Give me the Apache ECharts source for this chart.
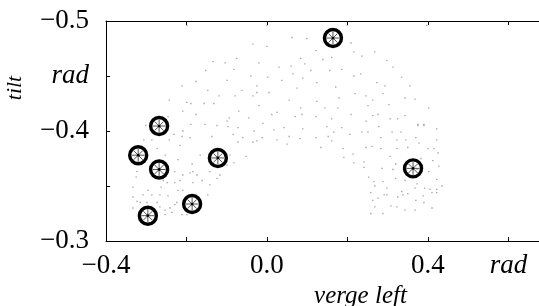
<!DOCTYPE html>
<html>
    <head>
        <meta charset="utf-8">
        <title>tilt vs verge left</title>
        <script src="https://cdn.jsdelivr.net/npm/echarts@6/dist/echarts.min.js"></script>
    </head>
    <body style="margin:0">
        <style>
            html, body, #main {
                width: 539px;
                height: 306px;
                background: #fff;
            }
        </style>
        <div id="main"></div>
        <script>
            // tick labels (value -> text); everything else is left blank
            var xTickLabels = { '-40': '\u22120.4', '0': '0.0', '40': '0.4', '60': '{it|rad}' };
            var yTickLabels = { '-50': '\u22120.5', '-45': '{it|rad}', '-40': '\u22120.4', '-30': '\u22120.3' };

            // highlighted fixations (wheel markers)
            var markX = [0.164, -0.268, -0.320, -0.268, -0.122, -0.186, -0.296, 0.363];
            var markY = [-0.4845, -0.4045, -0.378, -0.365, -0.3755, -0.3336, -0.323, -0.366];

            // faint sample cloud
            var cloud = [
                [-0.199,-0.496],[0.000,-0.496],[-0.035,-0.479],[0.000,-0.477],[-0.075,-0.466],[-0.134,-0.463],
                [-0.104,-0.462],[-0.020,-0.462],[0.030,-0.458],[-0.082,-0.456],[-0.152,-0.455],[-0.040,-0.450],
                [0.002,-0.449],[-0.099,-0.446],[-0.176,-0.445],[-0.211,-0.441],[-0.025,-0.441],[-0.147,-0.437],
                [-0.062,-0.437],[-0.025,-0.435],[0.005,-0.435],[-0.119,-0.432],[-0.079,-0.432],[-0.035,-0.432],
                [-0.243,-0.428],[-0.199,-0.426],[-0.189,-0.425],[-0.156,-0.425],[-0.132,-0.425],[-0.020,-0.423],
                [-0.209,-0.418],[-0.070,-0.418],[-0.176,-0.415],[0.012,-0.415],[0.025,-0.417],[-0.094,-0.412],
                [-0.045,-0.412],[-0.099,-0.409],[-0.010,-0.407],[-0.189,-0.406],[-0.154,-0.406],[-0.246,-0.413],
                [0.199,-0.496],[0.397,-0.496],[0.062,-0.485],[0.099,-0.484],[0.209,-0.480],[0.122,-0.473],
                [0.216,-0.472],[0.268,-0.472],[0.236,-0.468],[0.084,-0.466],[0.139,-0.465],[0.161,-0.467],
                [0.298,-0.464],[0.094,-0.461],[0.060,-0.459],[0.313,-0.458],[0.109,-0.455],[0.156,-0.455],
                [0.186,-0.456],[0.065,-0.452],[0.216,-0.450],[0.233,-0.452],[0.089,-0.448],[0.335,-0.449],
                [0.037,-0.446],[0.273,-0.444],[0.124,-0.444],[0.293,-0.441],[0.355,-0.441],[0.171,-0.440],
                [0.075,-0.439],[0.219,-0.434],[0.246,-0.432],[0.288,-0.434],[0.179,-0.430],[0.343,-0.430],
                [0.368,-0.429],[0.055,-0.428],[0.263,-0.428],[0.124,-0.427],[0.303,-0.424],[0.251,-0.423],
                [0.084,-0.421],[0.144,-0.421],[0.176,-0.421],[0.402,-0.421],[0.087,-0.415],[0.209,-0.415],
                [0.276,-0.415],[0.070,-0.413],[0.122,-0.413],[0.263,-0.414],[0.306,-0.411],[0.325,-0.411],
                [0.343,-0.414],[0.161,-0.411],[0.246,-0.409],[0.375,-0.406],[0.390,-0.406],
                [-0.301,-0.405],[-0.209,-0.400],[-0.231,-0.397],[-0.211,-0.395],[-0.191,-0.394],[-0.137,-0.395],
                [-0.124,-0.405],[-0.097,-0.404],[-0.072,-0.403],[-0.084,-0.397],[-0.072,-0.390],[-0.060,-0.394],
                [-0.032,-0.400],[-0.012,-0.394],[-0.035,-0.390],[0.017,-0.401],[0.025,-0.392],[-0.025,-0.391],
                [-0.306,-0.392],[-0.286,-0.392],[-0.273,-0.384],[-0.253,-0.378],[-0.216,-0.387],[-0.243,-0.392],
                [-0.166,-0.378],[-0.186,-0.370],[-0.221,-0.374],[-0.184,-0.363],[-0.174,-0.360],[-0.191,-0.362],
                [-0.229,-0.363],[-0.209,-0.360],[-0.161,-0.355],[-0.142,-0.351],[-0.117,-0.360],[-0.099,-0.369],
                [-0.052,-0.377],[-0.092,-0.378],[-0.082,-0.371],[-0.142,-0.363],[-0.124,-0.357],[-0.323,-0.363],
                [-0.325,-0.358],[-0.216,-0.355],[-0.229,-0.353],[-0.184,-0.353],[-0.258,-0.355],[-0.248,-0.353],
                [-0.263,-0.349],[-0.296,-0.346],[-0.308,-0.342],[-0.286,-0.342],[-0.266,-0.342],[-0.246,-0.341],
                [-0.221,-0.346],[-0.209,-0.346],[-0.333,-0.349],[-0.333,-0.340],[-0.323,-0.336],[-0.315,-0.335],
                [-0.298,-0.335],[-0.273,-0.335],[-0.266,-0.331],[-0.229,-0.333],[-0.241,-0.330],[-0.224,-0.335],
                [-0.253,-0.328],[-0.253,-0.324],[-0.236,-0.326],[-0.211,-0.324],[-0.199,-0.324],[-0.147,-0.342],
                [-0.333,-0.330],
                [0.042,-0.403],[0.089,-0.402],[0.149,-0.404],[0.186,-0.403],[0.166,-0.399],[0.236,-0.399],
                [0.251,-0.399],[0.278,-0.404],[0.311,-0.399],[0.333,-0.399],[0.375,-0.405],[0.390,-0.405],
                [0.422,-0.402],[0.055,-0.395],[0.082,-0.393],[0.122,-0.394],[0.152,-0.395],[0.161,-0.391],
                [0.206,-0.397],[0.050,-0.388],[0.134,-0.385],[0.189,-0.384],[0.214,-0.379],[0.191,-0.376],
                [0.246,-0.385],[0.261,-0.386],[0.283,-0.394],[0.283,-0.384],[0.306,-0.377],[0.323,-0.392],
                [0.345,-0.392],[0.370,-0.394],[0.323,-0.384],[0.350,-0.385],[0.378,-0.389],[0.400,-0.384],
                [0.415,-0.384],[0.422,-0.392],[0.425,-0.380],[0.383,-0.375],[0.412,-0.373],[0.216,-0.371],
                [0.241,-0.372],[0.241,-0.367],[0.286,-0.366],[0.313,-0.365],[0.320,-0.370],[0.320,-0.357],
                [0.253,-0.358],[0.266,-0.354],[0.268,-0.350],[0.288,-0.354],[0.298,-0.348],[0.343,-0.355],
                [0.368,-0.348],[0.373,-0.352],[0.392,-0.348],[0.405,-0.347],[0.422,-0.347],[0.422,-0.356],
                [0.427,-0.368],[0.435,-0.350],[0.402,-0.363],[0.373,-0.365],[0.258,-0.344],[0.276,-0.339],
                [0.263,-0.337],[0.268,-0.331],[0.291,-0.342],[0.298,-0.342],[0.325,-0.340],[0.335,-0.345],
                [0.338,-0.342],[0.350,-0.343],[0.370,-0.337],[0.388,-0.341],[0.410,-0.344],[0.422,-0.344],
                [0.390,-0.335],[0.410,-0.330],[0.308,-0.332],[0.323,-0.331],[0.343,-0.328],[0.368,-0.328],
                [0.258,-0.325],[0.288,-0.325]
            ];

            var marks = markX.map(function (x, i) { return [x, markY[i]]; });

            var serif = 'Liberation Serif';

            function tickText(table) {
                return function (v) {
                    var t = table[String(Math.round(v * 100))];
                    return t === undefined ? '' : t;
                };
            }

            var chart = echarts.init(document.getElementById('main'), null, { renderer: 'canvas' });

            chart.setOption({
                animation: false,
                backgroundColor: '#fff',
                grid: { left: 106, right: 0, top: 21, bottom: 65, outerBoundsMode: 'none', containLabel: false },
                xAxis: [{
                    type: 'value',
                    min: -0.4,
                    max: 0.676,
                    interval: 0.2,
                    name: 'verge left',
                    nameLocation: 'middle',
                    nameGap: 41,
                    nameTextStyle: {
                        fontFamily: serif, fontStyle: 'italic', fontSize: 25, color: '#000',
                        padding: [0, 0, 0, 76]
                    },
                    splitLine: { show: false },
                    axisLine: { onZero: false, lineStyle: { color: '#000', width: 1 } },
                    axisTick: { inside: true, length: 4, lineStyle: { color: '#000' } },
                    axisLabel: {
                        margin: 11,
                        showMaxLabel: false,
                        fontFamily: serif, fontSize: 27, color: '#000',
                        formatter: tickText(xTickLabels),
                        rich: { it: { fontFamily: serif, fontStyle: 'italic', fontSize: 27, color: '#000' } }
                    }
                }, {
                    type: 'value',
                    position: 'top',
                    min: -0.4,
                    max: 0.676,
                    interval: 0.2,
                    splitLine: { show: false },
                    axisLine: { onZero: false, lineStyle: { color: '#000', width: 1 } },
                    axisTick: { inside: true, length: 4, lineStyle: { color: '#000' } },
                    axisLabel: { show: false }
                }],
                yAxis: {
                    type: 'value',
                    inverse: true,
                    min: -0.5,
                    max: -0.3,
                    interval: 0.05,
                    name: 'tilt',
                    nameLocation: 'middle',
                    nameRotate: 90,
                    nameGap: 80,
                    nameTextStyle: {
                        fontFamily: serif, fontStyle: 'italic', fontSize: 22, color: '#000',
                        padding: [0, 0, 0, 86]
                    },
                    splitLine: { show: false },
                    axisLine: { onZero: false, lineStyle: { color: '#000', width: 1 } },
                    axisTick: { inside: true, length: 4, lineStyle: { color: '#000' } },
                    axisLabel: {
                        margin: 17,
                        fontFamily: serif, fontSize: 27, color: '#000',
                        formatter: tickText(yTickLabels),
                        rich: { it: { fontFamily: serif, fontStyle: 'italic', fontSize: 27, color: '#000' } }
                    }
                },
                series: [{
                    type: 'scatter',
                    data: cloud,
                    symbol: 'rect',
                    symbolSize: 1.3,
                    itemStyle: { color: '#888' },
                    silent: true
                }, {
                    type: 'custom',
                    data: marks,
                    renderItem: function (params, api) {
                        var p = api.coord([api.value(0), api.value(1)]);
                        var r = 8.5, s = 6.5, d = s * Math.SQRT1_2;
                        var spokes = [[0, s], [s, 0], [d, d], [d, -d]].map(function (v) {
                            return {
                                type: 'line',
                                shape: { x1: p[0] - v[0], y1: p[1] - v[1], x2: p[0] + v[0], y2: p[1] + v[1] },
                                style: { stroke: '#555', lineWidth: 1 }
                            };
                        });
                        return {
                            type: 'group',
                            children: [{
                                type: 'circle',
                                shape: { cx: p[0], cy: p[1], r: r },
                                style: { fill: '#fff', stroke: '#000', lineWidth: 3.4 }
                            }].concat(spokes).concat([{
                                type: 'circle',
                                shape: { cx: p[0], cy: p[1], r: 1.4 },
                                style: { fill: '#000' }
                            }])
                        };
                    }
                }]
            });
        </script>
    </body>
</html>
